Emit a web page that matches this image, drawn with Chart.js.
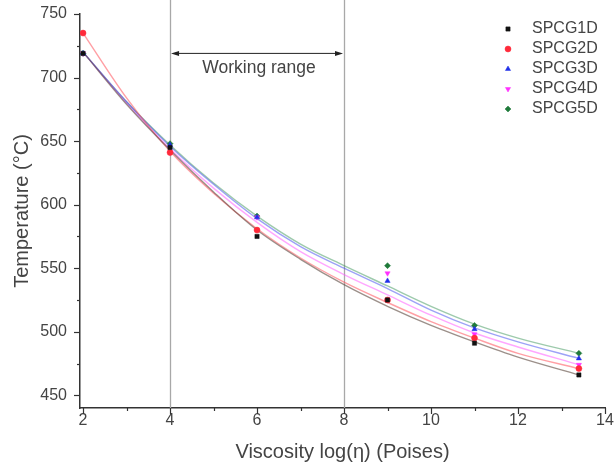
<!DOCTYPE html>
<html>
<head>
<meta charset="utf-8">
<script src="https://cdn.jsdelivr.net/npm/chart.js@4"></script>
<style>
html,body{margin:0;padding:0;background:#fff;}
canvas{display:block;}
</style>
</head>
<body>
<canvas id="c" width="615" height="475"></canvas>
<script>
// ---- data ----
const seriesNames = ['SPCG1D', 'SPCG2D', 'SPCG3D', 'SPCG4D', 'SPCG5D'];
const logViscosity = [2, 4, 6, 9, 11, 13.4];
const spcg1d = [719, 645, 575, 525, 491, 466];
const spcg2d = [735, 641, 580, 525, 495, 471];
const spcg3d = [719, 647, 590, 540, 502, 479];
const spcg4d = [719, 641, 590, 546, 498, 474];
const spcg5d = [719, 648, 591, 552, 505, 483];

// fitted curves
const fitX = [2, 3, 4, 5, 6, 7, 8, 9, 10, 11, 12, 13.4];
const fit1d = [720, 679, 643, 610, 580, 557, 537, 520, 505, 492, 480, 466];
const fit2d = [735, 684, 642, 609, 581, 558, 539, 523, 508, 495, 483, 471];
const fit3d = [720, 681, 646, 616, 589, 567, 550, 534, 517, 503, 492, 479];
const fit4d = [720, 680, 644, 613, 586, 563, 545, 529, 513, 499, 488, 474];
const fit5d = [720, 681, 647, 617, 591, 569, 552, 536, 520, 506, 495, 483];

const xTicks = [2, 4, 6, 8, 10, 12, 14];
const yTicks = [450, 500, 550, 600, 650, 700, 750];
const workingRange = [4, 8];
const workingLabel = 'Working range';

const colors = ['#111111', '#ff2a3a', '#2030e8', '#ff30ff', '#1f7a3a'];
const lineColors = ['rgba(90,70,60,0.6)', 'rgba(255,80,90,0.55)', 'rgba(60,70,240,0.5)', 'rgba(255,80,255,0.5)', 'rgba(60,150,90,0.5)'];
const pointStyles = ['rect', 'circle', 'triangle', 'triangle', 'rectRot'];
const pointRot = [0, 0, 0, 180, 0];

const values = [spcg1d, spcg2d, spcg3d, spcg4d, spcg5d];
const fits = [fit1d, fit2d, fit3d, fit4d, fit5d];

const FONT = '"Liberation Sans", Arial, sans-serif';

const datasets = [];
fits.forEach((f, i) => {
  datasets.push({
    type: 'line',
    label: seriesNames[i] + ' fit',
    isFit: true,
    data: fitX.map((x, j) => ({x: x, y: f[j]})),
    borderColor: lineColors[i],
    borderWidth: 1.4,
    pointRadius: 0,
    fill: false,
    cubicInterpolationMode: 'monotone',
    order: 2
  });
});
values.forEach((v, i) => {
  datasets.push({
    type: 'scatter',
    label: seriesNames[i],
    data: logViscosity.map((x, j) => ({x: x, y: v[j]})),
    backgroundColor: colors[i],
    borderColor: colors[i],
    pointStyle: pointStyles[i],
    rotation: pointRot[i],
    pointRadius: 3,
    borderWidth: 0.5,
    showLine: false,
    order: 1
  });
});

const decorPlugin = {
  id: 'decor',
  beforeDatasetsDraw(chart) {
    const ctx = chart.ctx, xs = chart.scales.x, ys = chart.scales.y, ca = chart.chartArea;
    ctx.save();
    ctx.strokeStyle = '#a8a8a8';
    ctx.lineWidth = 1.3;
    workingRange.forEach(v => {
      const px = Math.round(xs.getPixelForValue(v)) + 0.5;
      ctx.beginPath();
      ctx.moveTo(px, 0);
      ctx.lineTo(px, ca.bottom);
      ctx.stroke();
    });
    const ay = ys.getPixelForValue(719);
    const x1 = xs.getPixelForValue(workingRange[0]) + 1;
    const x2 = xs.getPixelForValue(workingRange[1]) - 1;
    ctx.strokeStyle = '#222';
    ctx.fillStyle = '#222';
    ctx.lineWidth = 1;
    ctx.beginPath();
    ctx.moveTo(x1 + 6, ay);
    ctx.lineTo(x2 - 6, ay);
    ctx.stroke();
    ctx.beginPath();
    ctx.moveTo(x1, ay); ctx.lineTo(x1 + 8, ay - 2.5); ctx.lineTo(x1 + 8, ay + 2.5); ctx.closePath(); ctx.fill();
    ctx.beginPath();
    ctx.moveTo(x2, ay); ctx.lineTo(x2 - 8, ay - 2.5); ctx.lineTo(x2 - 8, ay + 2.5); ctx.closePath(); ctx.fill();
    ctx.font = '17.5px ' + FONT;
    ctx.fillStyle = '#444';
    ctx.textAlign = 'center';
    ctx.textBaseline = 'middle';
    ctx.fillText(workingLabel, (x1 + x2) / 2 + 2, ys.getPixelForValue(707));
    ctx.restore();
  },
  afterDraw(chart) {
    const ctx = chart.ctx, xs = chart.scales.x, ys = chart.scales.y, ca = chart.chartArea;
    ctx.save();
    ctx.strokeStyle = '#333';
    ctx.lineWidth = 1.2;
    for (let k = 0; k < yTicks.length; k++) {
      const py = Math.round(ys.getPixelForValue(yTicks[k])) + 0.5;
      ctx.beginPath(); ctx.moveTo(ca.left - 6, py); ctx.lineTo(ca.left, py); ctx.stroke();
      if (k < yTicks.length - 1) {
        const pm = Math.round(ys.getPixelForValue((yTicks[k] + yTicks[k + 1]) / 2)) + 0.5;
        ctx.beginPath(); ctx.moveTo(ca.left - 3, pm); ctx.lineTo(ca.left, pm); ctx.stroke();
      }
    }
    for (let k = 0; k < xTicks.length; k++) {
      const px = Math.round(xs.getPixelForValue(xTicks[k])) + 0.5;
      ctx.beginPath(); ctx.moveTo(px, ca.bottom); ctx.lineTo(px, ca.bottom + 6); ctx.stroke();
      if (k < xTicks.length - 1) {
        const pm = Math.round(xs.getPixelForValue((xTicks[k] + xTicks[k + 1]) / 2)) + 0.5;
        ctx.beginPath(); ctx.moveTo(pm, ca.bottom); ctx.lineTo(pm, ca.bottom + 3); ctx.stroke();
      }
    }
    const pts = chart.data.datasets.filter(d => !d.isFit);
    ctx.font = '16px ' + FONT;
    ctx.textAlign = 'left';
    ctx.textBaseline = 'middle';
    pts.forEach((d, i) => {
      const y = 29 + i * 20;
      ctx.fillStyle = d.backgroundColor;
      ctx.strokeStyle = d.borderColor;
      ctx.lineWidth = 0.5;
      Chart.helpers.drawPoint(ctx, {pointStyle: d.pointStyle, rotation: d.rotation, radius: 3, borderWidth: 0.5}, 508, y);
      ctx.fillStyle = '#444';
      ctx.fillText(d.label, 532, y);
    });
    ctx.restore();
  }
};

new Chart(document.getElementById('c'), {
  data: {datasets: datasets},
  options: {
    responsive: false,
    animation: false,
    layout: {padding: {left: 0, top: 14, right: 10, bottom: 0}},
    plugins: {legend: {display: false}, tooltip: {enabled: false}},
    scales: {
      x: {
        type: 'linear',
        min: 1.93,
        max: 14,
        afterBuildTicks: s => { s.ticks = xTicks.map(v => ({value: v})); },
        afterFit: s => { s.height = 67; s.paddingLeft = 0; s.paddingRight = 0; },
        grid: {display: true, drawOnChartArea: false, drawTicks: false},
        border: {display: true, color: '#333', width: 1.5},
        ticks: {font: {family: FONT, size: 16}, color: '#444', padding: 3, maxRotation: 0},
        title: {display: true, text: 'Viscosity log(η) (Poises)', font: {family: FONT, size: 20}, color: '#444', padding: {top: 0, bottom: 11}}
      },
      y: {
        type: 'linear',
        min: 440,
        max: 750,
        afterBuildTicks: s => { s.ticks = yTicks.map(v => ({value: v})); },
        afterFit: s => { s.width = 80; s.paddingTop = 0; s.paddingBottom = 0; },
        grid: {display: true, drawOnChartArea: false, drawTicks: false},
        border: {display: true, color: '#333', width: 1.5},
        ticks: {font: {family: FONT, size: 16}, color: '#444', padding: 13},
        title: {display: true, text: 'Temperature (°C)', font: {family: FONT, size: 20}, color: '#444', padding: {top: 10, bottom: 0}}
      }
    }
  },
  plugins: [decorPlugin]
});
</script>
</body>
</html>
